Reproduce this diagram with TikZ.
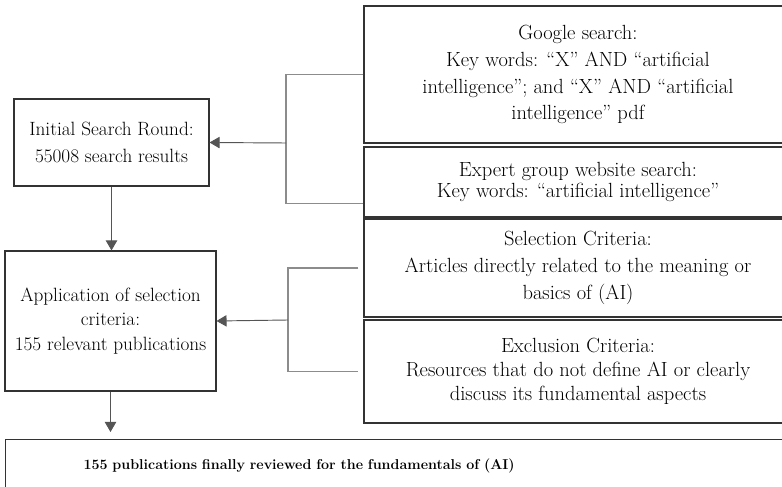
\documentclass[tikz,border=0pt]{standalone}
\usepackage{tikz}
\usetikzlibrary{arrows.meta,positioning,calc}
\definecolor{boxline}{HTML}{333333}
\definecolor{brackline}{HTML}{8C8C8C}
\definecolor{arrline}{HTML}{555555}

\begin{document}
\begin{tikzpicture}[x=0.03cm,y=-0.03cm,
		box/.style={draw=boxline, line width=0.9pt, align=center, inner sep=0pt, font=\fontsize{16.4}{23}\selectfont},
		rbox/.style={box, minimum width=12.84cm, font=\fontsize{17.5}{23}\selectfont},
		brack/.style={draw=brackline, line width=0.9pt},
		arr/.style={draw=arrline, line width=0.8pt, -{Triangle[length=0.3cm,width=0.34cm]}}]
		\useasboundingbox (0,0) rectangle (782,487);
		\clip (0,0) rectangle (782,487);

		% left column
		\node[box, minimum width=5.85cm, minimum height=2.61cm] (init) at (111.5,142.5) {Initial Search Round:\\55008 search results};
		\node[box, minimum width=6.33cm, minimum height=4.2cm, font=\fontsize{16.4}{21}\selectfont] (appl) at (110.5,321) {Application of selection\\criteria:\\155 relevant publications};

		% right column
		\node[rbox, minimum height=4.11cm] (google) at (578,74.5) {Google search:\\Key words: ``X'' AND ``artificial\\intelligence''; and ``X'' AND ``artificial\\intelligence'' pdf};
		\node[rbox, minimum height=2.1cm, font=\fontsize{17.5}{18}\selectfont] (expert) at (578,182) {Expert group website search:\\Key words: ``artificial intelligence''};
		\node[rbox, minimum height=2.94cm, font=\fontsize{17.5}{23}\selectfont] (select) at (578,268) {Selection Criteria:\\Articles directly related to the meaning or\\basics of (AI)};
		\node[rbox, minimum height=3.09cm, font=\fontsize{17.5}{20.5}\selectfont] (exclude) at (578,371.5) {Exclusion Criteria:\\Resources that do not define AI or clearly\\discuss its fundamental aspects};

		% bottom
		\node[box, anchor=north west, minimum height=1.56cm, text width=20cm, inner xsep=2.34cm, align=left, font=\fontsize{12.2}{15}\selectfont\bfseries] (final) at (5,439) {155 publications finally reviewed for the fundamentals of (AI)};

		\coordinate (g1) at (286,143);
		\coordinate (e1) at ($(expert.south west)+(0,-14)$);
		\coordinate (g2) at (288,320);
		\coordinate (f1) at (106,432);

		\draw[brack] (google.west) -| (g1) |- (e1);
		\draw[arr] (g1) -- (init.east);
		\draw[brack, shorten <=0.15cm, shorten >=0.15cm] (select.west) -| (g2) |- (exclude.west);
		\draw[arr] (g2) -- (appl.east);

		\draw[arr] (init.south) -- (init.south |- appl.north);
		\draw[arr] (appl.south) -- (appl.south |- f1);
	\end{tikzpicture}
\end{document}
